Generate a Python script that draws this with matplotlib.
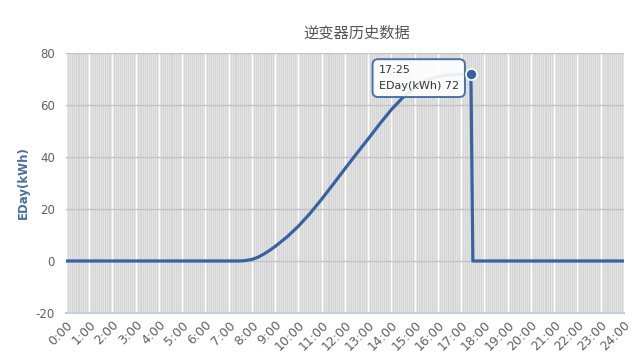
import numpy as np
import matplotlib
matplotlib.use('Agg')
import matplotlib.pyplot as plt

plt.rcParams['font.family'] = ['Noto Sans CJK SC', 'DejaVu Sans']

# Data: hours of day vs daily energy (kWh)
hours = [0, 7.5, 7.75, 8.0, 8.25, 8.5, 8.75, 9.0, 9.5, 10.0, 10.5, 11.0, 11.5, 12.0,
         12.5, 13.0, 13.5, 14.0, 14.5, 15.0, 15.5, 16.0, 16.5, 17.0, 17.4167, 17.5, 24]
eday = [0, 0, 0.2, 0.6, 1.4, 2.6, 4.0, 5.6, 9.2, 13.4, 18.3, 23.8, 29.6, 35.5,
        41.3, 47.0, 52.8, 58.3, 63.0, 66.8, 69.6, 71.0, 71.6, 71.9, 72.0, 0, 0]

tick_hours = list(range(0, 25))
tick_labels = ['%d:00' % h for h in tick_hours]
y_ticks = [-20, 0, 20, 40, 60, 80]

tip_time = '17:25'
tip_value = 72
tip_hour = 17.4167

LineColor = '#3564a0'
TextColor = '#606060'

fig = plt.figure(figsize=(6.4, 3.54), dpi=100)
ax = fig.add_axes([0.103, 0.116, 0.872, 0.734])
ax.set_facecolor('#e3e3e3')

# stripe-like background: fine gray lines, white at the hours
for m in np.arange(0, 24 * 60, 5):
    ax.axvline(m / 60.0, color='#d0d0d0', linewidth=0.5, zorder=0)
for h in tick_hours:
    ax.axvline(h, color='white', linewidth=1.0, zorder=0.5)
for yv in y_ticks:
    ax.axhline(yv, color='#c4c4c4', linewidth=1.0, zorder=0.6)

ax.plot(hours, eday, '-', color=LineColor, linewidth=2.3, zorder=3, solid_joinstyle='round')
ax.plot(tip_hour, tip_value, 'o', markersize=8, markerfacecolor=LineColor,
        markeredgecolor='white', markeredgewidth=1.2, zorder=7)

ax.set_xlim(0, 24)
ax.set_ylim(-20, 80)
ax.set_xticks(tick_hours)
ax.set_xticklabels(tick_labels, rotation=45, ha='right', rotation_mode='anchor',
                   fontsize=9, color=TextColor, family='DejaVu Sans')
ax.set_yticks(y_ticks)
ax.set_yticklabels([str(v) for v in y_ticks], fontsize=8.5, color=TextColor, family='DejaVu Sans')
ax.tick_params(axis='x', length=0, pad=4)
ax.tick_params(axis='y', length=0, pad=8)

for s in ['top', 'left', 'right']:
    ax.spines[s].set_visible(False)
ax.spines['bottom'].set_color('#c0d0e0')
ax.spines['bottom'].set_linewidth(1.5)

ax.set_ylabel('EDay(kWh)', fontsize=8.5, fontweight='bold', color='#4a6fa0',
              family='DejaVu Sans', labelpad=4)
fig.text(0.558, 0.907, '逆变器历史数据', ha='center', va='center', fontsize=11, color='#555555')

# tooltip box
ax.text(13.45, 75.3, tip_time + '\nEDay(kWh) ' + str(tip_value), fontsize=8, color='#333333',
        family='DejaVu Sans', va='top', ha='left', linespacing=1.7, zorder=6,
        bbox=dict(boxstyle='round,pad=0.55,rounding_size=0.5', facecolor='white',
                  edgecolor=LineColor, linewidth=1.4, alpha=0.9))

plt.savefig('out.png', dpi=100)
plt.close()
